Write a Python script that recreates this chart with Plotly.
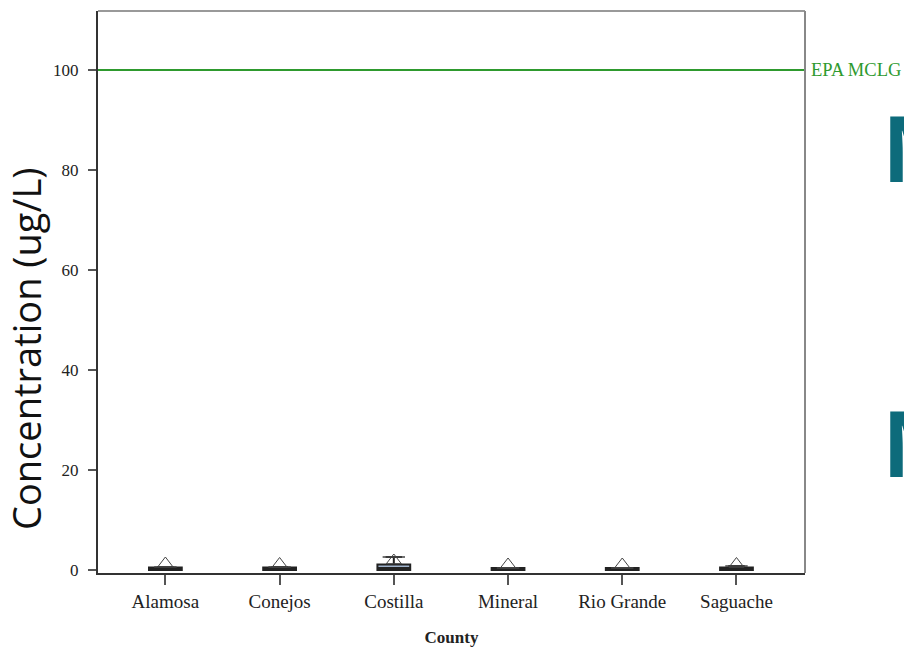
import plotly.graph_objects as go

counties = ["Alamosa", "Conejos", "Costilla", "Mineral", "Rio Grande", "Saguache"]
q1 = [0.0, 0.0, 0.0, 0.0, 0.0, 0.0]
median = [0.1, 0.1, 0.4, 0.05, 0.05, 0.1]
q3 = [0.5, 0.5, 1.1, 0.4, 0.4, 0.5]
lower = [0.0, 0.0, 0.0, 0.0, 0.0, 0.0]
upper = [0.6, 0.6, 2.6, 0.4, 0.4, 0.8]
means = [1.3, 1.2, 1.9, 1.1, 1.1, 1.2]
box_fill = ["#1a1a1a", "#1a1a1a", "#9fb2cc", "#333333", "#333333", "#1a1a1a"]
epa_mclg = 100
y_ticks = [0, 20, 40, 60, 80, 100]

W, H = 904, 648
L, R, T, B = 98, 99, 11, 75
PW, PH = W - L - R, H - T - B

def px(xs):
    return (xs - L) / PW

def py(ys):
    return 1 - (ys - T) / PH

fig = go.Figure()
for i, c in enumerate(counties):
    fig.add_trace(go.Box(
        x=[c], q1=[q1[i]], median=[median[i]], q3=[q3[i]],
        lowerfence=[lower[i]], upperfence=[upper[i]],
        fillcolor=box_fill[i], line=dict(color="#222222", width=2),
        boxpoints=False, showlegend=False, whiskerwidth=0.5,
    ))
fig.add_trace(go.Scatter(
    x=counties, y=upper, mode="markers", showlegend=False,
    marker=dict(symbol="line-ew", size=16, line=dict(color="#444444", width=1.5)),
))
fig.add_trace(go.Scatter(
    x=counties, y=means, mode="markers", showlegend=False,
    marker=dict(symbol="triangle-up-open", size=13, color="#444444",
                line=dict(width=1)),
))

fig.add_shape(type="line", xref="paper", yref="y", x0=0, x1=1, y0=epa_mclg, y1=epa_mclg,
              line=dict(color="#2e9a2e", width=2))
fig.add_annotation(xref="paper", yref="y", x=1.0, y=epa_mclg, xanchor="left",
                   xshift=4, text="EPA MCLG", showarrow=False,
                   font=dict(family="Liberation Serif", size=18.5, color="#2e9a2e"))

# frame top/right
fig.add_shape(type="line", xref="paper", yref="paper", x0=0, x1=1, y0=1, y1=1,
              line=dict(color="#999999", width=2))
fig.add_shape(type="line", xref="paper", yref="paper", x0=1, x1=1, y0=0, y1=1,
              line=dict(color="#888888", width=2))

# y-axis title as annotation (positioned like the reference)
fig.add_annotation(xref="paper", yref="paper", x=px(26), y=py(349),
                   xanchor="center", yanchor="middle", textangle=-90,
                   text="Concentration (ug/L)", showarrow=False,
                   font=dict(family="Open Sans", size=38, color="#111111"))

# clipped slide letters on the right
for ys in [146, 441]:
    fig.add_annotation(xref="paper", yref="paper",
                       x=px(880), y=py(ys),
                       xanchor="left", yanchor="middle", text="<b>M</b>",
                       showarrow=False,
                       font=dict(family="Open Sans", size=92, color="#0d6b7b"))

fig.update_layout(
    width=W, height=H, margin=dict(l=L, r=R, t=T, b=B, autoexpand=False),
    plot_bgcolor="white", paper_bgcolor="white",
    boxmode="overlay", boxgap=0.59,
    xaxis=dict(range=[-0.59, 5.6], showline=True, linecolor="#333333", linewidth=2,
               ticks="outside", ticklen=10, tickcolor="#555555", tickwidth=2,
               showgrid=False, zeroline=False, automargin=False,
               tickfont=dict(family="Liberation Serif", size=19, color="#222222"),
               title=dict(text="<b>County</b>", standoff=20,
                          font=dict(family="Liberation Serif", size=17, color="#222222"))),
    yaxis=dict(range=[-0.6, 111.8], showline=True, linecolor="#333333", linewidth=2,
               ticks="outside", ticklen=8, tickcolor="#555555", tickwidth=2,
               tickvals=y_ticks, showgrid=False, zeroline=False, automargin=False,
               ticklabelstandoff=6,
               tickfont=dict(family="Liberation Serif", size=17, color="#222222")),
)

fig.write_html("out.html", config={"displayModeBar": False},
               post_script="document.body.style.margin='0';document.body.style.overflow='hidden';")
